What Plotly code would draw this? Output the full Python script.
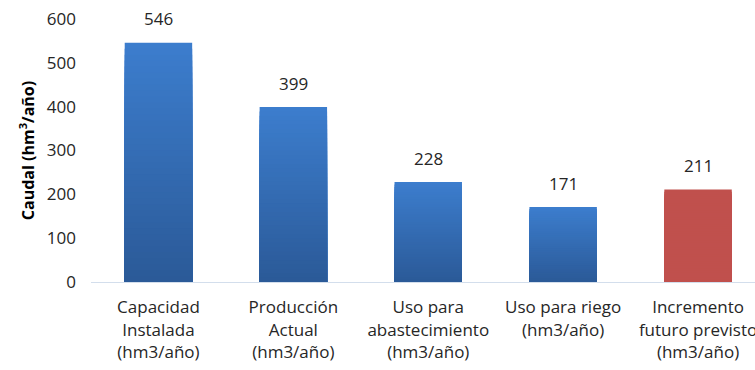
import plotly.graph_objects as go

# Caudal por concepto (hm3/año)
categories = [
    "Capacidad<br>Instalada<br>(hm3/año)",
    "Producción<br>Actual<br>(hm3/año)",
    "Uso para<br>abastecimiento<br>(hm3/año)",
    "Uso para riego<br>(hm3/año)",
    "Incremento<br>futuro previsto<br>(hm3/año)",
]
values = [546, 399, 228, 171, 211]
y_ticks = [0, 100, 200, 300, 400, 500, 600]

FONT = "Open Sans, Liberation Sans, sans-serif"
TEXT = "#262626"

# Gradient endpoints per bar (top colour, bottom colour); the last bar is flat red.
top_cols = [(60, 125, 205)] * 4 + [(192, 80, 77)]
bot_cols = [(43, 90, 152)] * 4 + [(192, 80, 77)]

x = list(range(len(values)))
fig = go.Figure()

# Vertical gradient: overlaid bars of decreasing height, progressively darker.
steps = 40
for k in range(steps):
    t = k / (steps - 1)
    frac = 1 - k / steps
    cols = []
    for tc, bc in zip(top_cols, bot_cols):
        r, g, b = (round(tc[i] + (bc[i] - tc[i]) * t) for i in range(3))
        cols.append(f"rgb({r},{g},{b})")
    fig.add_trace(go.Bar(
        x=x, y=[v * frac for v in values],
        marker=dict(color=cols, line=dict(width=0)),
        width=0.5, hoverinfo="skip", showlegend=False,
    ))

# Value labels above each bar
for xi, v in zip(x, values):
    fig.add_annotation(x=xi, y=v, text=str(v), showarrow=False,
                       yshift=24, font=dict(family=FONT, size=17, color=TEXT))

fig.update_layout(
    width=755, height=370,
    barmode="overlay",
    margin=dict(l=90.5, r=0, t=19, b=88, autoexpand=False),
    paper_bgcolor="white", plot_bgcolor="white",
    font=dict(family=FONT, size=17, color=TEXT),
    xaxis=dict(
        tickmode="array", tickvals=x, ticktext=categories,
        range=[-0.5, 4.5 - 10.5 / 135],
        showgrid=False, zeroline=False,
        showline=True, linecolor="#d3deec", linewidth=1,
        ticks="", ticklabelstandoff=10, ticklabeloverflow="allow",
        tickfont=dict(family=FONT, size=17, color=TEXT),
    ),
    yaxis=dict(
        range=[0, 600], tickvals=y_ticks,
        showgrid=False, zeroline=False, showline=False,
        ticks="", ticklabelstandoff=14,
        tickfont=dict(family=FONT, size=17, color=TEXT),
        title=dict(text="<b>Caudal (hm<sup>3</sup>/año)</b>", standoff=8,
                   font=dict(family=FONT, size=16, color="#000000")),
    ),
)

fig.write_html("out.html")
